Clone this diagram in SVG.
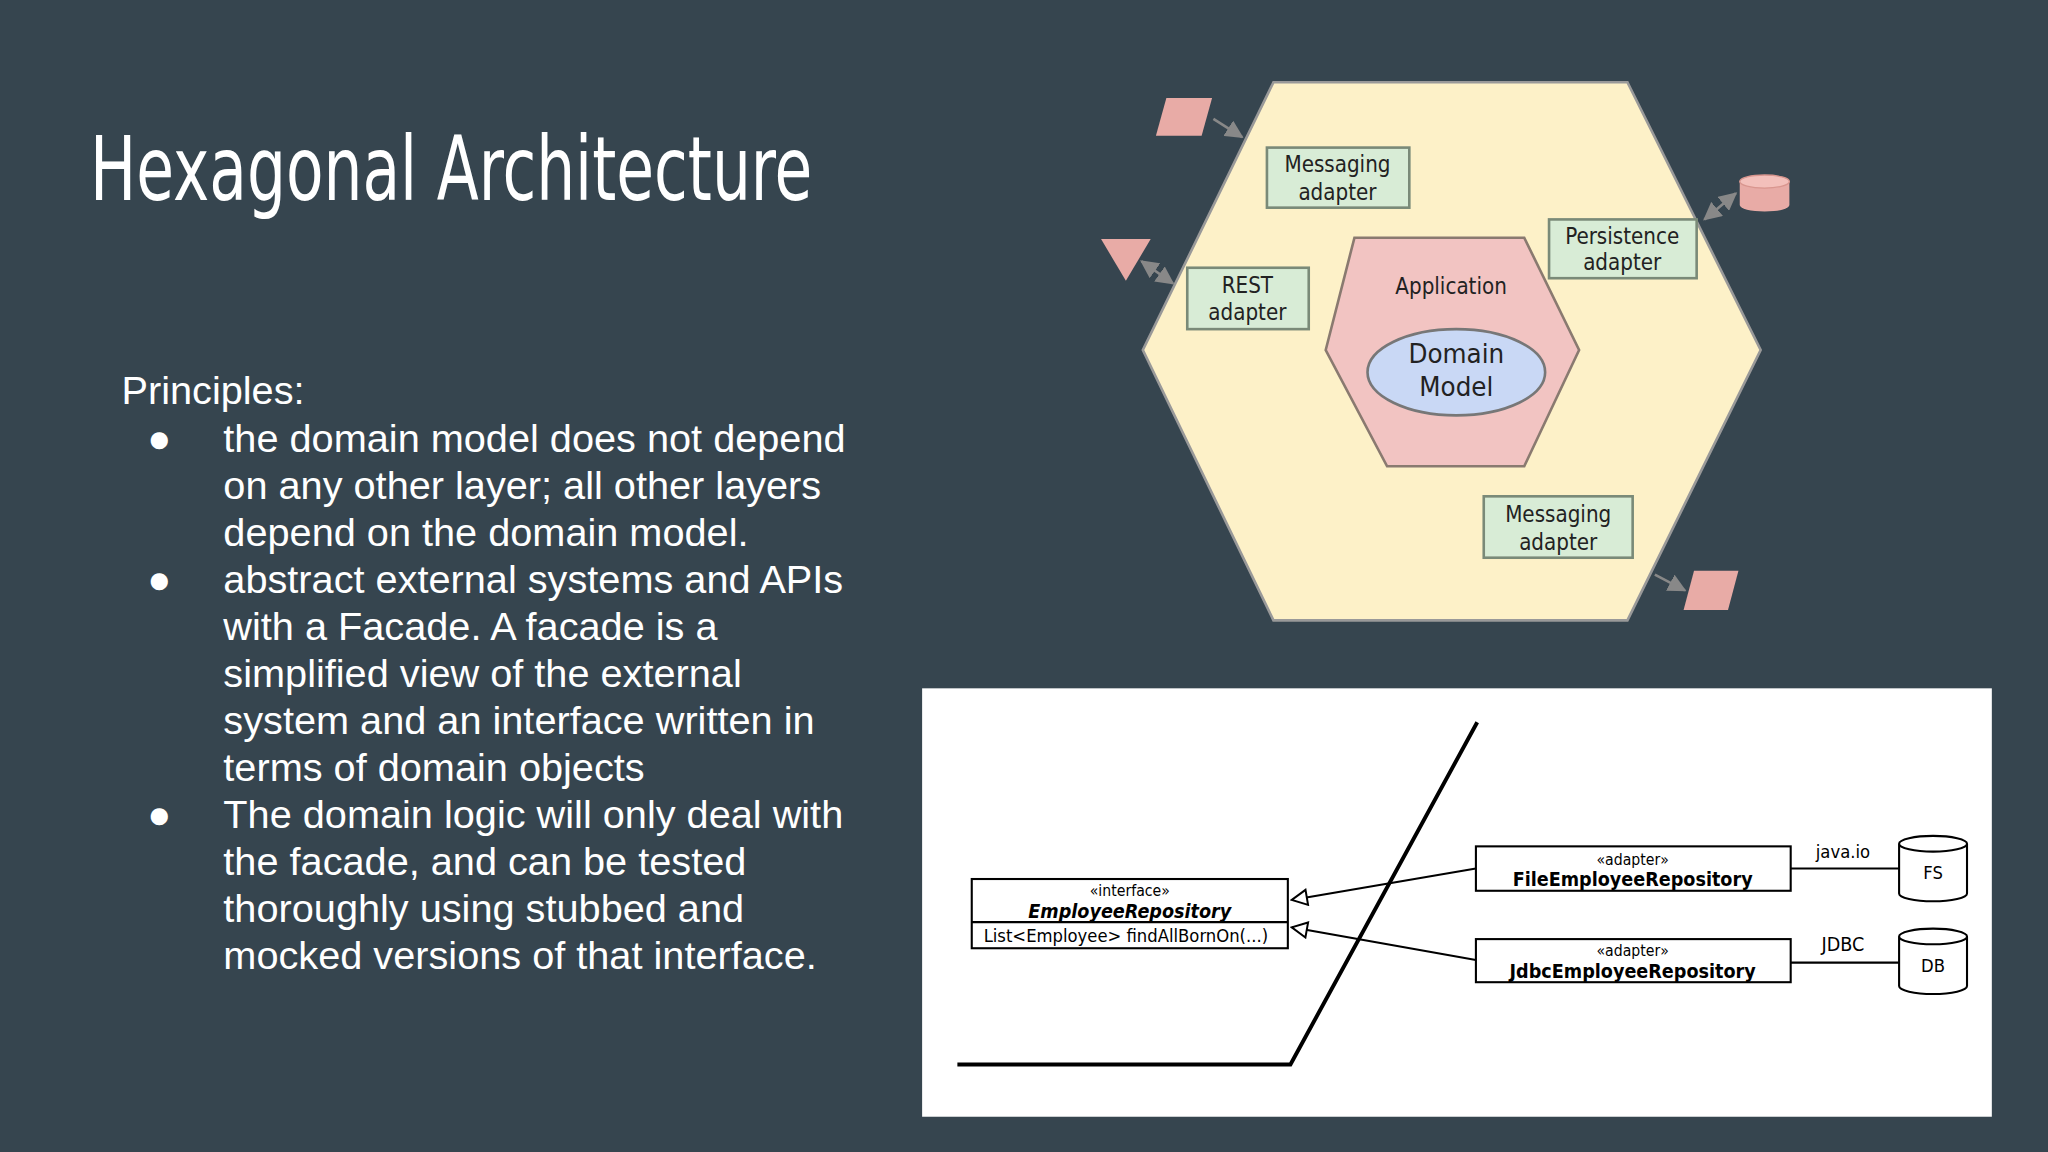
<svg xmlns="http://www.w3.org/2000/svg" width="2048" height="1152" viewBox="0 0 2048 1152">
<defs>
<style>
.t{font-family:"Liberation Sans",Arial,sans-serif;fill:#fff;font-size:30.4px}
.hx{font-family:"DejaVu Sans Condensed","Liberation Sans",sans-serif;font-stretch:condensed;font-size:17px;fill:#222;text-anchor:middle}
.dm{font-size:21px}
.ad{fill:#d8ecd6;stroke:#7a8a78;stroke-width:2}
.ext{fill:#e8aba6}
.ga{stroke:#888;stroke-width:2;fill:none}
.u{font-family:"DejaVu Sans Condensed","Liberation Sans",sans-serif;font-stretch:condensed;fill:#000;text-anchor:middle}
.ub{fill:#fff;stroke:#000;stroke-width:1.6}
</style>
<marker id="ga" viewBox="0 0 10 10" refX="9" refY="5" markerWidth="7" markerHeight="7" orient="auto-start-reverse"><path d="M0,0L10,5L0,10z" fill="#888"/></marker>
<marker id="tri" viewBox="0 0 12 12" refX="11" refY="6" markerWidth="14" markerHeight="14" markerUnits="userSpaceOnUse" orient="auto"><path d="M1,1L11,6L1,11z" fill="#fff" stroke="#000" stroke-width="1.3"/></marker>
</defs>
<rect width="2048" height="1152" fill="#36454f"/>
<g transform="scale(1.30612)">
<text x="69" y="153" font-family="'Liberation Sans Narrow','DejaVu Sans Condensed',sans-serif" font-stretch="condensed" font-size="68" fill="#fff" textLength="553" lengthAdjust="spacingAndGlyphs">Hexagonal Architecture</text>
<g id="principles" class="t">
<text x="93" y="309">Principles:</text>
<text x="113" y="346">●</text><text x="171" y="346">the domain model does not depend</text>
<text x="171" y="382">on any other layer; all other layers</text>
<text x="171" y="418">depend on the domain model.</text>
<text x="113" y="454">●</text><text x="171" y="454">abstract external systems and APIs</text>
<text x="171" y="490">with a Facade. A facade is a</text>
<text x="171" y="526">simplified view of the external</text>
<text x="171" y="562">system and an interface written in</text>
<text x="171" y="598">terms of domain objects</text>
<text x="113" y="634">●</text><text x="171" y="634">The domain logic will only deal with</text>
<text x="171" y="670">the facade, and can be tested</text>
<text x="171" y="706">thoroughly using stubbed and</text>
<text x="171" y="742">mocked versions of that interface.</text>
</g>
<g id="outer-hexagon"><polygon points="975,63 1246,63 1348,268 1246,475 975,475 875,268" fill="#fdf1c8" stroke="#999" stroke-width="2"/></g>
<g id="application"><polygon points="1037,182 1167,182 1209,268 1167,357 1062,357 1015,268" fill="#f2c4c2" stroke="#8a7a70" stroke-width="2"/>
<text class="hx" x="1111" y="225">Application</text></g>
<g id="domain-model"><ellipse cx="1115" cy="285" rx="68" ry="33" fill="#c9d8f5" stroke="#777" stroke-width="2"/>
<text class="hx dm" x="1115" y="278">Domain</text><text class="hx dm" x="1115" y="303">Model</text></g>
<g id="messaging-top"><rect class="ad" x="970" y="113" width="109" height="46"/><text class="hx" x="1024" y="132">Messaging</text><text class="hx" x="1024" y="153">adapter</text></g>
<g id="rest"><rect class="ad" x="909" y="205" width="93" height="47"/><text class="hx" x="955" y="224">REST</text><text class="hx" x="955" y="245">adapter</text></g>
<g id="persistence"><rect class="ad" x="1186" y="168" width="113" height="45"/><text class="hx" x="1242" y="187">Persistence</text><text class="hx" x="1242" y="207">adapter</text></g>
<g id="messaging-bottom"><rect class="ad" x="1136" y="380" width="114" height="47"/><text class="hx" x="1193" y="400">Messaging</text><text class="hx" x="1193" y="421">adapter</text></g>
<g id="ext-top"><polygon class="ext" points="893,75 928,75 920,104 885,104"/></g>
<g id="ext-triangle"><polygon class="ext" points="843,183 881,183 862,215"/></g>
<g id="ext-db"><path class="ext" d="M1332,139 v18 a19,5 0 0 0 38,0 v-18z"/><ellipse cx="1351" cy="139" rx="19" ry="5" fill="#f3c0bb" stroke="#d9968f"/></g>
<g id="ext-bottom"><polygon class="ext" points="1297,437 1331,437 1323,467 1289,467"/></g>
<g id="connectors">
<line class="ga" x1="929" y1="91" x2="951" y2="105" marker-end="url(#ga)"/>
<line class="ga" x1="874" y1="200" x2="898" y2="217" marker-start="url(#ga)" marker-end="url(#ga)"/>
<line class="ga" x1="1329" y1="148" x2="1305" y2="168" marker-start="url(#ga)" marker-end="url(#ga)"/>
<line class="ga" x1="1267" y1="440" x2="1290" y2="452" marker-end="url(#ga)"/>
</g>
<rect x="706" y="527" width="819" height="328" fill="#fff"/>
<g id="boundary"><polyline points="1131,553 988,815 733,815" fill="none" stroke="#000" stroke-width="3"/></g>
<g id="employee-repository"><rect class="ub" x="744" y="673" width="242" height="53"/><line x1="744" y1="706" x2="986" y2="706" stroke="#000" stroke-width="1.6"/>
<text class="u" x="865" y="686" font-size="12">«interface»</text>
<text class="u" x="865" y="703" font-size="15" font-weight="bold" font-style="italic">EmployeeRepository</text>
<text class="u" x="862" y="721" font-size="14">List&lt;Employee&gt; findAllBornOn(...)</text></g>
<g id="file-repo"><rect class="ub" x="1130" y="648" width="241" height="34"/>
<text class="u" x="1250" y="662" font-size="12">«adapter»</text><text class="u" x="1250" y="678" font-size="15" font-weight="bold">FileEmployeeRepository</text></g>
<g id="jdbc-repo"><rect class="ub" x="1130" y="719" width="241" height="33"/>
<text class="u" x="1250" y="732" font-size="12">«adapter»</text><text class="u" x="1250" y="749" font-size="15" font-weight="bold">JdbcEmployeeRepository</text></g>
<g id="fs"><path d="M1454,646 v38 a26,6 0 0 0 52,0 v-38 a26,6 0 0 0 -52,0 a26,6 0 0 0 52,0" fill="#fff" stroke="#000" stroke-width="1.6"/><text class="u" x="1480" y="673" font-size="14">FS</text></g>
<g id="db"><path d="M1454,717 v38 a26,6 0 0 0 52,0 v-38 a26,6 0 0 0 -52,0 a26,6 0 0 0 52,0" fill="#fff" stroke="#000" stroke-width="1.6"/><text class="u" x="1480" y="744" font-size="14">DB</text></g>
<g id="uml-connectors" stroke="#000" stroke-width="1.6" fill="none">
<line x1="1130" y1="665" x2="989" y2="689" marker-end="url(#tri)"/>
<line x1="1130" y1="735" x2="989" y2="710" marker-end="url(#tri)"/>
<line x1="1371" y1="665" x2="1454" y2="665"/>
<line x1="1371" y1="737" x2="1454" y2="737"/>
</g>
<text class="u" x="1411" y="657" font-size="14">java.io</text>
<text class="u" x="1411" y="728" font-size="15">JDBC</text>
</g>
</svg>
